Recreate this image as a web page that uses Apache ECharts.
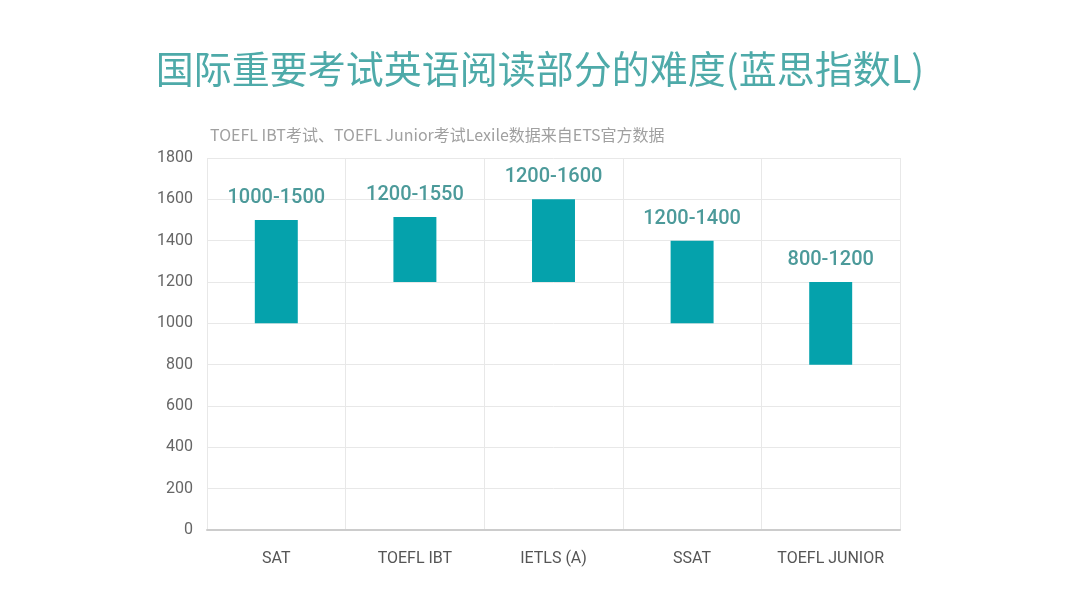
<!DOCTYPE html>
<html>
<head>
<meta charset="utf-8">
<script src="https://cdn.jsdelivr.net/npm/echarts@6/dist/echarts.min.js"></script>
<style>
html,body{margin:0;padding:0;background:#fff;}
#chart{width:1080px;height:608px;}
</style>
</head>
<body>
<div id="chart"></div>
<script>
const categories = ['SAT', 'TOEFL IBT', 'IETLS (A)', 'SSAT', 'TOEFL JUNIOR'];
const lowValues = [1000, 1200, 1200, 1000, 800];
const highValues = [1500, 1515, 1600, 1400, 1200];
const rangeLabels = ['1000-1500', '1200-1550', '1200-1600', '1200-1400', '800-1200'];
const yTicks = { min: 0, max: 1800, interval: 200 };

const chart = echarts.init(document.getElementById('chart'));
const cjk = '"Noto Sans CJK SC", "Noto Sans", sans-serif';
const latin = 'Roboto, "Liberation Sans", sans-serif';
chart.setOption({
  backgroundColor: '#ffffff',
  title: [{
    text: '国际重要考试英语阅读部分的难度(蓝思指数L)',
    left: 'center',
    top: 45,
    textStyle: { color: '#4eaaa9', fontSize: 38, fontWeight: 'normal', fontFamily: cjk }
  }, {
    text: 'TOEFL IBT考试、TOEFL Junior考试Lexile数据来自ETS官方数据',
    left: 205,
    top: 122,
    textStyle: { color: '#a0a0a0', fontSize: 16, fontWeight: 'normal', fontFamily: cjk }
  }],
  grid: { left: 207, right: 180, top: 158, bottom: 78 },
  xAxis: {
    type: 'category',
    data: categories,
    axisLine: { lineStyle: { color: '#cccccc', width: 2 } },
    axisTick: { show: false },
    splitLine: { show: true, interval: 0, lineStyle: { color: '#e8e8e8' } },
    axisLabel: { color: '#555', fontSize: 16, margin: 21, interval: 0, fontFamily: latin }
  },
  yAxis: {
    type: 'value',
    min: yTicks.min, max: yTicks.max, interval: yTicks.interval,
    axisLine: { show: false },
    axisTick: { show: false },
    splitLine: { lineStyle: { color: '#e8e8e8' } },
    axisLabel: { color: '#666', fontSize: 16, margin: 14, fontFamily: latin, formatter: v => String(v) }
  },
  series: [{
    type: 'bar',
    stack: 'r',
    data: lowValues,
    itemStyle: { color: 'transparent' },
    barWidth: '31%',
    silent: true
  }, {
    type: 'bar',
    stack: 'r',
    data: highValues.map((h, i) => h - lowValues[i]),
    barWidth: '31%',
    itemStyle: { color: '#05a2ac' },
    label: {
      show: true,
      position: 'top',
      distance: 12,
      color: '#4c9a9a',
      fontSize: 20,
      fontWeight: 500,
      fontFamily: latin,
      formatter: p => rangeLabels[p.dataIndex]
    }
  }],
  animation: false
});
</script>
</body>
</html>
